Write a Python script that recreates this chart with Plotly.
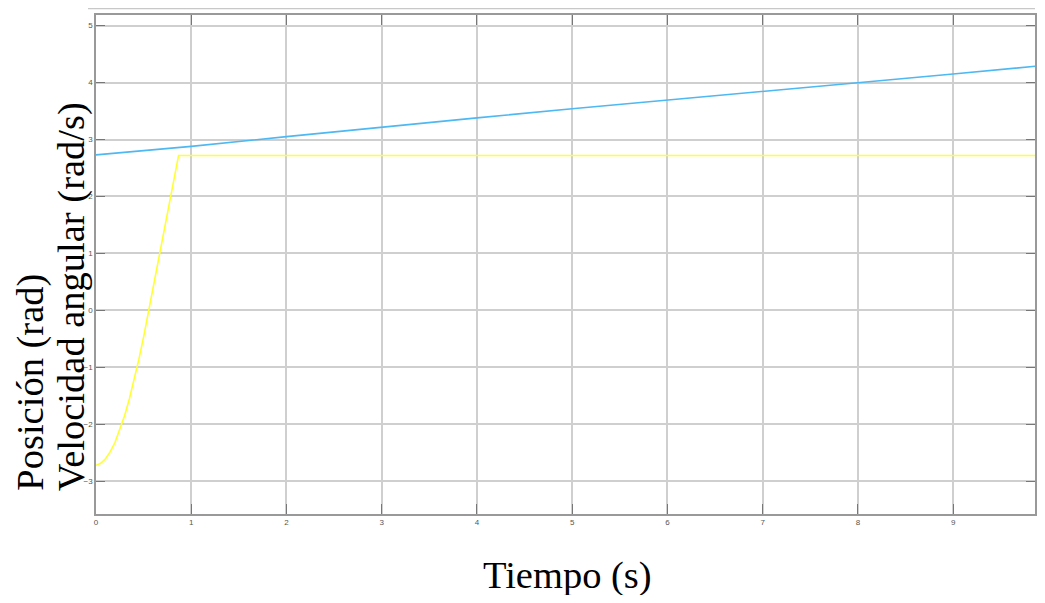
import plotly.graph_objects as go

# Data
t_vel = [0.0, 0.5, 1.0, 2.0, 3.0, 4.0, 5.0, 6.0, 7.0, 8.0, 9.0, 9.95]
vel = [2.73, 2.80, 2.88, 3.05, 3.22, 3.38, 3.54, 3.69, 3.84, 4.00, 4.15, 4.30]

t_pos = [0.0, 0.05, 0.10, 0.15, 0.20, 0.25, 0.30, 0.35, 0.40, 0.45, 0.50, 0.55,
         0.867, 1.0, 5.0, 9.95]
pos = [-2.72, -2.684, -2.605, -2.48, -2.315, -2.10, -1.85, -1.556, -1.225, -0.86,
       -0.465, -0.04, 2.72, 2.72, 2.72, 2.72]

x_ticks = [0, 1, 2, 3, 4, 5, 6, 7, 8, 9]
y_ticks = [-3, -2, -1, 0, 1, 2, 3, 4, 5]

fig = go.Figure()
fig.add_trace(go.Scatter(x=t_pos, y=pos, mode="lines",
                         line=dict(color="#FFFF33", width=1.6), showlegend=False))
fig.add_trace(go.Scatter(x=t_vel, y=vel, mode="lines",
                         line=dict(color="#4DB8F2", width=1.6), showlegend=False))

axis_common = dict(
    showgrid=True, gridcolor="#cfcfcf", gridwidth=1.5,
    showline=True, linecolor="#999999", linewidth=1.5, mirror="allticks",
    ticks="inside", tickcolor="#777777", tickwidth=1.2,
    tickfont=dict(family="Liberation Sans", size=8, color="#555555"),
    zeroline=False,
)

fig.update_xaxes(range=[0, 9.86], tickvals=x_ticks, ticklen=10, **axis_common)
fig.update_yaxes(range=[-3.574, 5.186], tickvals=y_ticks, ticklen=9, **axis_common)

fig.add_annotation(text="Tiempo (s)", xref="paper", yref="paper",
                   x=0.502, y=-0.124, xanchor="center", yanchor="middle",
                   showarrow=False,
                   font=dict(family="Liberation Serif", size=38.5, color="#000000"))

title_font = dict(family="Liberation Serif", size=38.5, color="#000000")
fig.add_annotation(text="Posición (rad)", xref="paper", yref="paper",
                   x=-0.0701, y=0.044, xanchor="center", yanchor="bottom",
                   textangle=-90, showarrow=False, borderpad=0, font=title_font)
fig.add_annotation(text="Velocidad angular (rad/s)", xref="paper", yref="paper",
                   x=-0.0258, y=0.044, xanchor="center", yanchor="bottom",
                   textangle=-90, showarrow=False, borderpad=0, font=title_font)

fig.add_shape(type="line", xref="paper", yref="paper", x0=-0.0085, x1=1.0,
              y0=1.013, y1=1.013, line=dict(color="#c8c8c8", width=1.5))

fig.update_layout(
    width=1029, height=587,
    margin=dict(l=88, r=0, t=7, b=81),
    paper_bgcolor="white", plot_bgcolor="white",
)

fig.write_html("out.html")
